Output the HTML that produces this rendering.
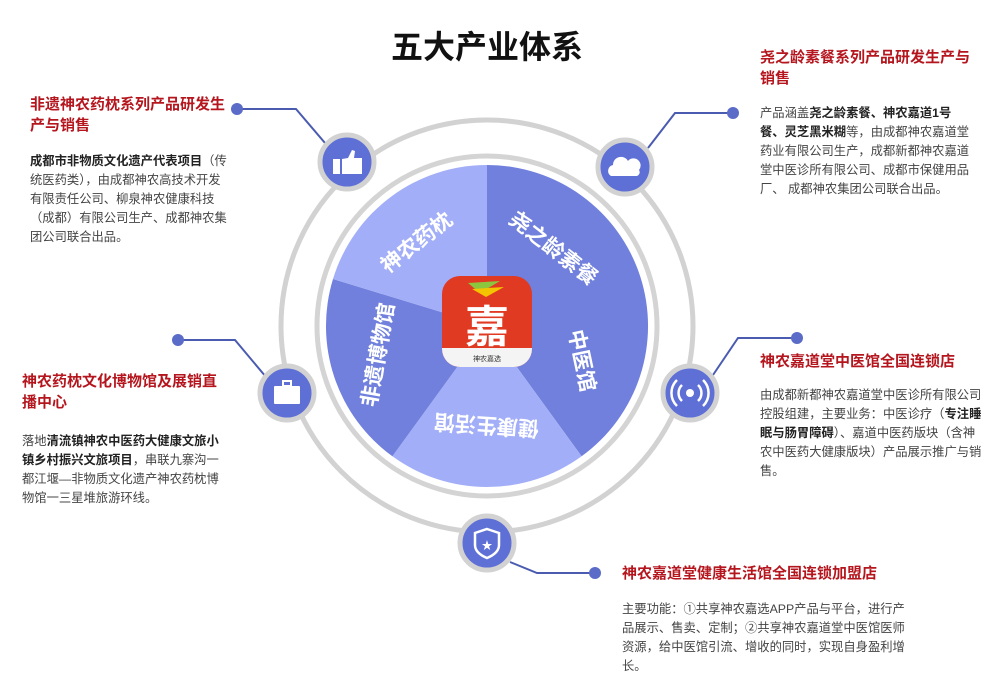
<!DOCTYPE html>
<html><head><meta charset="utf-8"><style>
body{margin:0;width:1000px;height:685px;background:#fff;position:relative;overflow:hidden;font-family:"Liberation Sans","Noto Sans CJK SC",sans-serif}
.t{position:absolute;color:#b5161e;font-weight:bold;font-size:15px;line-height:21px;white-space:nowrap}
.b{position:absolute;color:#444;font-size:12.3px;line-height:19px;white-space:nowrap}
.b b{color:#222}
svg{position:absolute;left:0;top:0}
</style></head><body>
<svg width="1000" height="685" viewBox="0 0 1000 685" font-family="Liberation Sans, Noto Sans CJK SC, sans-serif">
<text x="487" y="58" text-anchor="middle" font-size="32" font-weight="bold" fill="#111">五大产业体系</text>
<!-- connectors -->
<g stroke="#4a5bb0" stroke-width="2" fill="none">
<polyline points="237,109 296,109 325,143"/>
<polyline points="733,113 675,113 648,148"/>
<polyline points="797,338 738,338 713,375"/>
<polyline points="178,340 235,340 266,377"/>
<polyline points="510,562 537,573 595,573"/>
</g>
<g fill="#5a6cc8">
<circle cx="237" cy="109" r="6"/><circle cx="733" cy="113" r="6"/><circle cx="797" cy="338" r="6"/><circle cx="178" cy="340" r="6"/><circle cx="595" cy="573" r="6"/>
</g>
<circle cx="487" cy="326" r="206" fill="none" stroke="#d2d2d2" stroke-width="5"/>
<circle cx="487" cy="326" r="170" fill="#fff" stroke="#d4d4d4" stroke-width="5"/>
<!-- pie -->
<g transform="translate(487,326)">
<path d="M0,0 L0,-161 A161,161 0 0 1 94.6,130.3 Z" fill="#7080dc"/>
<path d="M0,0 L94.6,130.3 A161,161 0 0 1 -94.6,130.3 Z" fill="#a2aef7"/>
<path d="M0,0 L-94.6,130.3 A161,161 0 0 1 -154,-47 Z" fill="#7080dc"/>
<path d="M0,0 L-154,-47 A161,161 0 0 1 0,-161 Z" fill="#a2aef7"/>
<g fill="#fff" font-size="21" font-weight="bold" text-anchor="middle">
<text transform="translate(-66,-78) rotate(-38)">神农药枕</text>
<text transform="translate(62,-72) rotate(38)">尧之龄素餐</text>
<text transform="translate(88,36) rotate(78)">中医馆</text>
<text transform="translate(0,92) rotate(184)">健康生活馆</text>
<text transform="translate(-102,30) rotate(-80)">非遗博物馆</text>
</g>
</g>
<!-- logo -->
<rect x="442" y="276" width="90" height="91" rx="18" fill="#e03a22"/>
<path d="M442,348 L532,348 L532,349 A18,18 0 0 1 514,367 L460,367 A18,18 0 0 1 442,349 Z" fill="#f4f4f4"/>
<path d="M468,283 L500,281 L480,293 Z" fill="#8cc63f"/>
<path d="M472,289 L504,287 L486,297 Z" fill="#f5c400"/>
<text x="487" y="342" text-anchor="middle" font-size="44" font-weight="bold" fill="#fff">嘉</text>
<text x="487" y="361" text-anchor="middle" font-size="7" fill="#333">神农嘉选</text>
<!-- icon circles -->
<g fill="#5e70d6" stroke="#d2d2d2" stroke-width="5">
<circle cx="347" cy="162" r="27"/><circle cx="625" cy="167" r="27"/><circle cx="690" cy="393" r="27"/><circle cx="287" cy="393" r="27"/><circle cx="487" cy="543" r="27"/>
</g>
<g fill="#fff">
<rect x="333" y="159" width="7" height="15"/><path d="M342,159 L348,158 L352,150 L355,151 L354,158 L362,158 L362,174 L342,174 Z"/>
<path d="M611,176 A6,6 0 0 1 613,165 A8,8 0 0 1 628,161 A7,7 0 0 1 639,170 A4,4 0 0 1 637,176 Z"/>
<rect x="274" y="386" width="26" height="18" rx="1"/><rect x="283" y="381" width="8" height="5" fill="none" stroke="#fff" stroke-width="2"/>
<circle cx="690" cy="393" r="4"/>
</g>
<g fill="none" stroke="#fff" stroke-width="2.5">
<path d="M682,385 A11,11 0 0 0 682,401 M698,385 A11,11 0 0 1 698,401"/>
<path d="M677,380 A18,18 0 0 0 677,406 M703,380 A18,18 0 0 1 703,406"/>
<path d="M487,529 L499,533 L499,545 Q499,553 487,558 Q475,553 475,545 L475,533 Z"/>
</g>
<text x="487" y="549" text-anchor="middle" font-size="11" fill="#fff">★</text>
</svg>

<div class="t" style="left:30px;top:94px">非遗神农药枕系列产品研发生<br>产与销售</div>
<div class="b" style="left:30px;top:152px"><b>成都市非物质文化遗产代表项目</b>（传<br>统医药类），由成都神农高技术开发<br>有限责任公司、柳泉神农健康科技<br>（成都）有限公司生产、成都神农集<br>团公司联合出品。</div>

<div class="t" style="left:760px;top:47px">尧之龄素餐系列产品研发生产与<br>销售</div>
<div class="b" style="left:760px;top:104px">产品涵盖<b>尧之龄素餐、神农嘉道1号</b><br><b>餐、灵芝黑米糊</b>等，由成都神农嘉道堂<br>药业有限公司生产，成都新都神农嘉道<br>堂中医诊所有限公司、成都市保健用品<br>厂、 成都神农集团公司联合出品。</div>

<div class="t" style="left:760px;top:351px">神农嘉道堂中医馆全国连锁店</div>
<div class="b" style="left:760px;top:386px">由成都新都神农嘉道堂中医诊所有限公司<br>控股组建，主要业务：中医诊疗（<b>专注睡</b><br><b>眠与肠胃障碍</b>）、嘉道中医药版块（含神<br>农中医药大健康版块）产品展示推广与销<br>售。</div>

<div class="t" style="left:22px;top:371px">神农药枕文化博物馆及展销直<br>播中心</div>
<div class="b" style="left:22px;top:432px">落地<b>清流镇神农中医药大健康文旅小</b><br><b>镇乡村振兴文旅项目</b>，串联九寨沟一<br>都江堰—非物质文化遗产神农药枕博<br>物馆一三星堆旅游环线。</div>

<div class="t" style="left:622px;top:563px">神农嘉道堂健康生活馆全国连锁加盟店</div>
<div class="b" style="left:622px;top:600px">主要功能：①共享神农嘉选APP产品与平台，进行产<br>品展示、售卖、定制；②共享神农嘉道堂中医馆医师<br>资源，给中医馆引流、增收的同时，实现自身盈利增<br>长。</div>
</body></html>
